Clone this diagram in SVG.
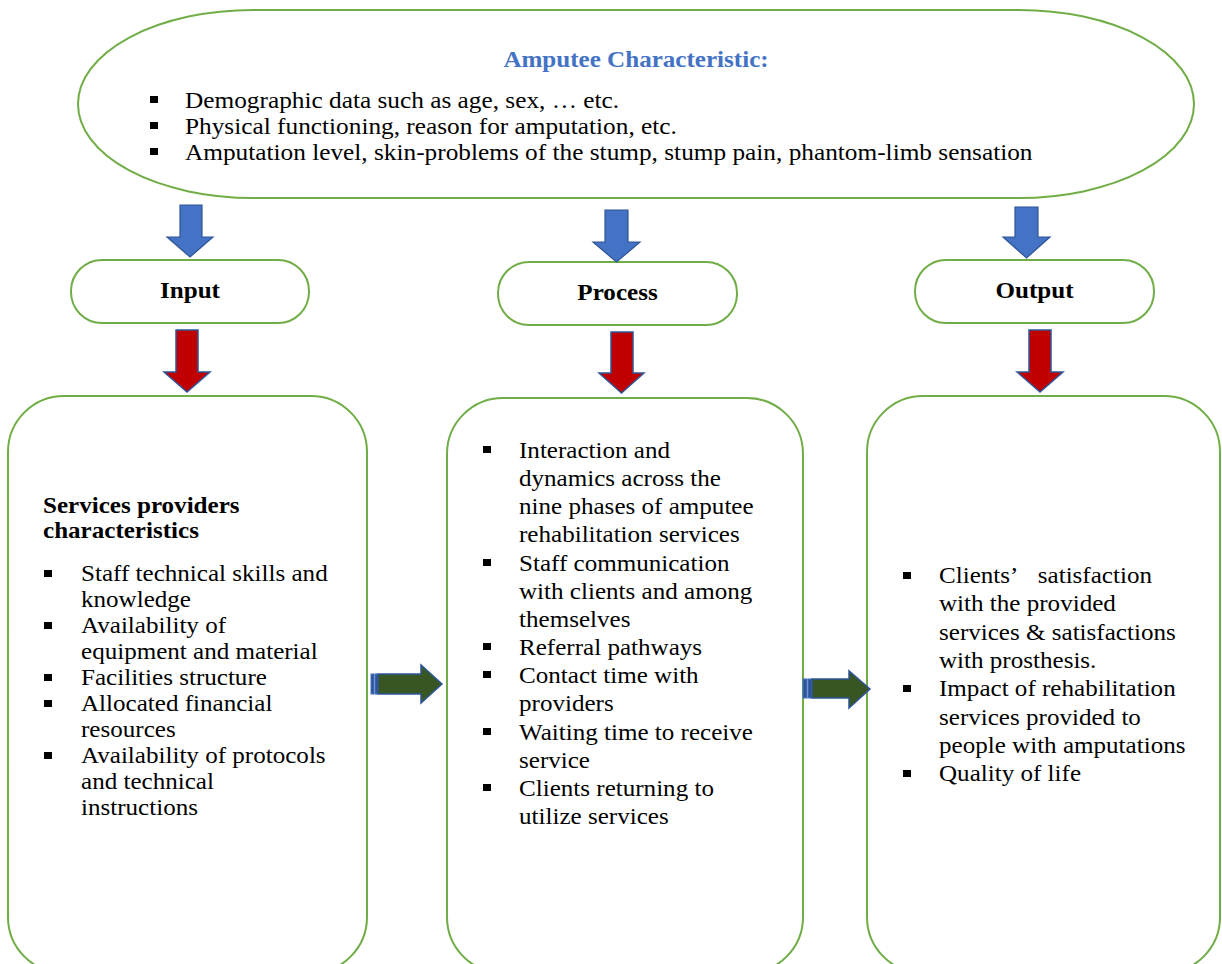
<svg xmlns="http://www.w3.org/2000/svg" width="1222" height="964" viewBox="0 0 1222 964">
<style>
.shape{fill:#fff;stroke:#70AD47;stroke-width:2}
.t{font-family:"Liberation Serif","Times New Roman",serif;font-size:22.6px;fill:#000}
.b{font-weight:bold}
.title{fill:#4472C4;font-weight:bold}
.mid{text-anchor:middle}
.bul{fill:#000}
.blue{fill:#4472C4;stroke:#2F5597;stroke-width:1.2;stroke-linejoin:miter}
.red{fill:#C00000;stroke:#2F5597;stroke-width:1.5;stroke-linejoin:miter}
.green{fill:#375623;stroke:#2F5597;stroke-width:1.5;stroke-linejoin:miter}
.stripe{fill:#2F5597;stroke:#4472C4;stroke-width:1}
</style>
<rect width="1222" height="964" fill="#fff"/>

<g id="amputee-characteristic">
<rect class="shape" x="78" y="10" width="1116" height="188" rx="175" ry="94"/>
<g transform="translate(636,0) scale(1.11,1)"><text class="t title mid" x="0" y="67">Amputee Characteristic:</text></g>
<rect class="bul" x="150" y="96" width="8" height="7"/>
<rect class="bul" x="150" y="122" width="8" height="7"/>
<rect class="bul" x="150" y="148" width="8" height="7"/>
<g transform="translate(185,0) scale(1.12,1)">
<text class="t" x="0" y="108">Demographic data such as age, sex, … etc.</text>
<text class="t" x="0" y="134">Physical functioning, reason for amputation, etc.</text>
<text class="t" x="0" y="160">Amputation level, skin-problems of the stump, stump pain, phantom-limb sensation</text>
</g>
</g>

<g id="input">
<rect class="shape" x="71" y="260" width="238" height="63" rx="31" ry="31"/>
<g transform="translate(190,0) scale(1.11,1)"><text class="t b mid" x="0" y="298">Input</text></g>
</g>
<g id="process">
<rect class="shape" x="498" y="262" width="239" height="63" rx="31" ry="31"/>
<g transform="translate(617.5,0) scale(1.11,1)"><text class="t b mid" x="0" y="300">Process</text></g>
</g>
<g id="output">
<rect class="shape" x="915" y="260" width="239" height="63" rx="31" ry="31"/>
<g transform="translate(1034.5,0) scale(1.11,1)"><text class="t b mid" x="0" y="298">Output</text></g>
</g>

<g id="input-details">
<rect class="shape" x="8" y="396" width="359" height="577" rx="56" ry="56"/>
<rect class="bul" x="44" y="570" width="8" height="7"/>
<rect class="bul" x="44" y="622" width="8" height="7"/>
<rect class="bul" x="44" y="674" width="8" height="7"/>
<rect class="bul" x="44" y="700" width="8" height="7"/>
<rect class="bul" x="44" y="752" width="8" height="7"/>
<g transform="translate(43,0) scale(1.11,1)">
<text class="t b" x="0" y="513">Services providers</text>
<text class="t b" x="0" y="538">characteristics</text>
</g>
<g transform="translate(81,0) scale(1.11,1)">
<text class="t" x="0" y="581">Staff technical skills and</text>
<text class="t" x="0" y="607">knowledge</text>
<text class="t" x="0" y="633">Availability of</text>
<text class="t" x="0" y="659">equipment and material</text>
<text class="t" x="0" y="685">Facilities structure</text>
<text class="t" x="0" y="711">Allocated financial</text>
<text class="t" x="0" y="737">resources</text>
<text class="t" x="0" y="763">Availability of protocols</text>
<text class="t" x="0" y="789">and technical</text>
<text class="t" x="0" y="815">instructions</text>
</g>
</g>

<g id="process-details">
<rect class="shape" x="447" y="398" width="356" height="575" rx="56" ry="56"/>
<rect class="bul" x="483" y="446" width="8" height="7"/>
<rect class="bul" x="483" y="559" width="8" height="7"/>
<rect class="bul" x="483" y="643" width="8" height="7"/>
<rect class="bul" x="483" y="671" width="8" height="7"/>
<rect class="bul" x="483" y="728" width="8" height="7"/>
<rect class="bul" x="483" y="784" width="8" height="7"/>
<g transform="translate(519,0) scale(1.11,1)">
<text class="t" x="0" y="458">Interaction and</text>
<text class="t" x="0" y="486">dynamics across the</text>
<text class="t" x="0" y="514">nine phases of amputee</text>
<text class="t" x="0" y="542">rehabilitation services</text>
<text class="t" x="0" y="571">Staff communication</text>
<text class="t" x="0" y="599">with clients and among</text>
<text class="t" x="0" y="627">themselves</text>
<text class="t" x="0" y="655">Referral pathways</text>
<text class="t" x="0" y="683">Contact time with</text>
<text class="t" x="0" y="711">providers</text>
<text class="t" x="0" y="740">Waiting time to receive</text>
<text class="t" x="0" y="768">service</text>
<text class="t" x="0" y="796">Clients returning to</text>
<text class="t" x="0" y="824">utilize services</text>
</g>
</g>

<g id="output-details">
<rect class="shape" x="867" y="396" width="353" height="577" rx="56" ry="56"/>
<rect class="bul" x="903" y="572" width="8" height="7"/>
<rect class="bul" x="903" y="685" width="8" height="7"/>
<rect class="bul" x="903" y="770" width="8" height="7"/>
<g transform="translate(939,0) scale(1.11,1)">
<text class="t" x="0" y="583">Clients’ <tspan x="89">satisfaction</tspan></text>
<text class="t" x="0" y="611">with the provided</text>
<text class="t" x="0" y="640">services &amp; satisfactions</text>
<text class="t" x="0" y="668">with prosthesis.</text>
<text class="t" x="0" y="696">Impact of rehabilitation</text>
<text class="t" x="0" y="725">services provided to</text>
<text class="t" x="0" y="753">people with amputations</text>
<text class="t" x="0" y="781">Quality of life</text>
</g>
</g>

<g id="connectors">
<polygon class="blue" points="180,205 202,205 202,237 213,237 190,257 167,237 180,237"/>
<polygon class="blue" points="605,210 628,210 628,242 640,242 616.5,262 593,242 605,242"/>
<polygon class="blue" points="1015,207 1038,207 1038,237 1050,237 1026.5,258 1003,237 1015,237"/>
<polygon class="red" points="176,330 198,330 198,372 210,372 187,392 164,372 176,372"/>
<polygon class="red" points="611,332 633,332 633,373 644,373 621.5,393 599,373 611,373"/>
<polygon class="red" points="1029,330 1051,330 1051,372 1063,372 1040,392 1017,372 1029,372"/>
<rect class="stripe" x="371" y="674" width="3" height="20"/>
<rect class="stripe" x="375" y="674" width="3" height="20"/>
<polygon class="green" points="378,674 421,674 421,665 442,684 421,703 421,694 378,694"/>
<rect class="stripe" x="803" y="679" width="4" height="19"/>
<rect class="stripe" x="808" y="679" width="4" height="19"/>
<polygon class="green" points="812,679 849,679 849,671 870,689 849,708 849,698 812,698"/>
</g>
</svg>
